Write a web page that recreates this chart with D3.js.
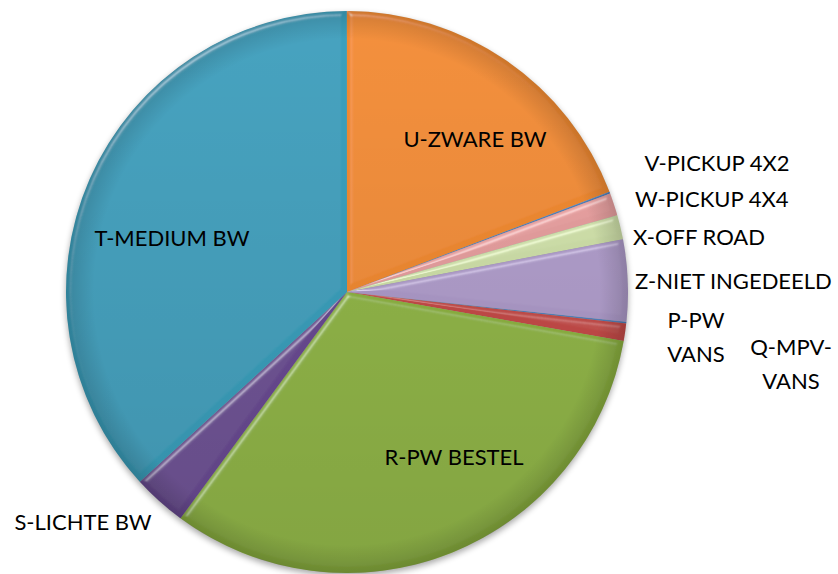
<!DOCTYPE html>
<html>
<head>
<meta charset="utf-8">
<script src="https://cdn.jsdelivr.net/npm/d3@7"></script>
<style>
  body { margin: 0; background: #fff; }
  text { font-family: Lato, "Open Sans", sans-serif; fill: #000; }
</style>
</head>
<body>
<svg id="chart" width="838" height="574"></svg>
<script>
// categories in the order of the sheet
var categories = ["P-PW VANS", "Q-MPV-VANS", "R-PW BESTEL", "S-LICHTE BW", "T-MEDIUM BW",
                  "U-ZWARE BW", "V-PICKUP 4X2", "W-PICKUP 4X4", "X-OFF ROAD", "Z-NIET INGEDEELD"];
// share in percent
var shares = [0.1, 1.0, 32.3, 3.1, 36.8, 19.2, 0.1, 1.3, 1.4, 4.7];
// label text lines
var labelLines = [["P-PW", "VANS"], ["Q-MPV-", "VANS"], ["R-PW BESTEL"], ["S-LICHTE BW"], ["T-MEDIUM BW"],
                  ["U-ZWARE BW"], ["V-PICKUP 4X2"], ["W-PICKUP 4X4"], ["X-OFF ROAD"], ["Z-NIET INGEDEELD"]];

var colors = ["#4a7ebb", "#c64b48", "#8db33f", "#6b4c93", "#3aa0bd",
              "#f28b30", "#4a7ebb", "#e8a0a0", "#d0e1aa", "#ae9bca"];

// label placement (x, y of first baseline, anchor)
var labelPos = [
  [696, 328, "middle"], [791, 355, "middle"], [454, 465, "middle"], [83, 530, "middle"], [172, 246, "middle"],
  [475, 147, "middle"], [717, 171, "middle"], [635, 207, "start"], [633, 245, "start"], [635, 289, "start"]
];

var cx = 347, cy = 292, radius = 281;
var firstSliceAngle = 96.1; // degrees, like Excel's rotation

var data = categories.map(function(c, i) { return {name: c, value: shares[i], i: i}; });

var svg = d3.select("#chart");
var defs = svg.append("defs");

// bevel filter
var bevel = defs.append("filter").attr("id", "bevel")
    .attr("x", "-10%").attr("y", "-10%").attr("width", "120%").attr("height", "120%");
bevel.append("feGaussianBlur").attr("in", "SourceAlpha").attr("stdDeviation", 2.5).attr("result", "blur");
bevel.append("feSpecularLighting").attr("in", "blur").attr("surfaceScale", 4)
    .attr("specularConstant", 0.6).attr("specularExponent", 25)
    .attr("lighting-color", "#ffffff").attr("result", "spec")
  .append("feDistantLight").attr("azimuth", 235).attr("elevation", 35);
bevel.append("feComposite").attr("in", "spec").attr("in2", "SourceAlpha")
    .attr("operator", "in").attr("result", "specIn");
bevel.append("feComposite").attr("in", "SourceGraphic").attr("in2", "specIn")
    .attr("operator", "arithmetic").attr("k1", 0).attr("k2", 1).attr("k3", 0.6).attr("k4", 0);

// soft shadow under the pie
var shadow = defs.append("filter").attr("id", "shadow")
    .attr("x", "-10%").attr("y", "-10%").attr("width", "120%").attr("height", "120%");
shadow.append("feGaussianBlur").attr("in", "SourceAlpha").attr("stdDeviation", 3).attr("result", "b");
shadow.append("feOffset").attr("in", "b").attr("dx", 0).attr("dy", 3).attr("result", "o");
shadow.append("feComponentTransfer").attr("in", "o")
  .append("feFuncA").attr("type", "linear").attr("slope", 0.35);

var pie = d3.pie()
    .value(function(d) { return d.value; })
    .sort(null)
    .startAngle(firstSliceAngle * Math.PI / 180)
    .endAngle(firstSliceAngle * Math.PI / 180 + 2 * Math.PI);

var arc = d3.arc().innerRadius(0).outerRadius(radius);

var g = svg.append("g").attr("transform", "translate(" + cx + "," + cy + ")");

g.append("circle").attr("r", radius).attr("fill", "#000").attr("filter", "url(#shadow)");

g.selectAll("path.slice")
    .data(pie(data))
  .enter().append("path")
    .attr("class", "slice")
    .attr("d", arc)
    .attr("fill", function(d) { return colors[d.data.i]; })
    .attr("filter", "url(#bevel)");

// darker rim and lower shading
var rim = defs.append("radialGradient").attr("id", "rim")
    .attr("gradientUnits", "userSpaceOnUse").attr("cx", 0).attr("cy", 0).attr("r", radius);
rim.append("stop").attr("offset", "0.9").attr("stop-color", "#000").attr("stop-opacity", 0);
rim.append("stop").attr("offset", "1").attr("stop-color", "#000").attr("stop-opacity", 0.15);
g.append("circle").attr("r", radius).attr("fill", "url(#rim)");

var shade = defs.append("linearGradient").attr("id", "shade")
    .attr("x1", 0).attr("y1", 0).attr("x2", 0).attr("y2", 1);
shade.append("stop").attr("offset", "0").attr("stop-color", "#000").attr("stop-opacity", 0);
shade.append("stop").attr("offset", "1").attr("stop-color", "#000").attr("stop-opacity", 0.1);
g.append("circle").attr("r", radius).attr("fill", "url(#shade)");

// labels
var labels = svg.selectAll("text.label")
    .data(data)
  .enter().append("text")
    .attr("class", "label")
    .attr("font-size", 22)
    .attr("text-anchor", function(d) { return labelPos[d.i][2]; })
    .attr("x", function(d) { return labelPos[d.i][0]; })
    .attr("y", function(d) { return labelPos[d.i][1]; });

labels.selectAll("tspan")
    .data(function(d) { return labelLines[d.i].map(function(t) { return {t: t, x: labelPos[d.i][0]}; }); })
  .enter().append("tspan")
    .attr("x", function(d) { return d.x; })
    .attr("dy", function(d, j) { return j === 0 ? 0 : 34; })
    .text(function(d) { return d.t; });
</script>
</body>
</html>
